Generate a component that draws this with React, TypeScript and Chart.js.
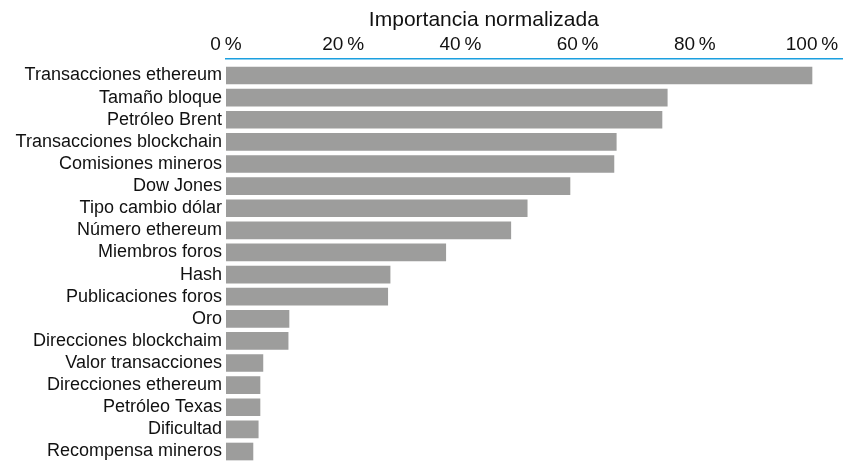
import React, { useEffect, useRef } from "react";
import { Chart, registerables } from "chart.js";

Chart.register(...registerables);

const categories: string[] = [
  "Transacciones ethereum",
  "Tamaño bloque",
  "Petróleo Brent",
  "Transacciones blockchain",
  "Comisiones mineros",
  "Dow Jones",
  "Tipo cambio dólar",
  "Número ethereum",
  "Miembros foros",
  "Hash",
  "Publicaciones foros",
  "Oro",
  "Direcciones blockchaim",
  "Valor transacciones",
  "Direcciones ethereum",
  "Petróleo Texas",
  "Dificultad",
  "Recompensa mineros",
];

const importance: number[] = [
  100, 75.3, 74.4, 66.6, 66.2, 58.7, 51.4, 48.6, 37.5, 28.0, 27.6, 10.75, 10.6,
  6.3, 5.8, 5.8, 5.5, 4.6,
];

const xTickValues: number[] = [0, 20, 40, 60, 80, 100];
const axisTitle = "Importancia normalizada";

const FONT = '"Liberation Sans", Arial, Helvetica, sans-serif';

const titlePlugin = {
  id: "axisTitleText",
  afterDraw(chart: any) {
    const ctx = chart.ctx;
    const xs = chart.scales.x;
    ctx.save();
    ctx.font = `21px ${FONT}`;
    ctx.fillStyle = "#111";
    ctx.textAlign = "center";
    ctx.textBaseline = "alphabetic";
    ctx.fillText(axisTitle, xs.getPixelForValue(44), 26);
    ctx.restore();
  },
};

export default function App() {
  const ref = useRef<HTMLCanvasElement | null>(null);

  useEffect(() => {
    document.body.style.margin = "0";
    const canvas = ref.current;
    if (!canvas) return;
    Chart.defaults.font.family = FONT;
    const chart = new Chart(canvas, {
      type: "bar",
      data: {
        datasets: [
          {
            data: importance.map((v, i) => ({ x: v, y: i })),
            backgroundColor: "#9d9d9c",
            borderWidth: 0,
            barThickness: 17,
          },
        ],
      },
      options: {
        indexAxis: "y",
        animation: false,
        responsive: true,
        maintainAspectRatio: false,
        layout: { padding: { top: 33, left: 0, right: 0, bottom: 0 } },
        plugins: {
          legend: { display: false },
          tooltip: { enabled: false },
          title: { display: false },
        },
        scales: {
          x: {
            type: "linear",
            position: "top",
            min: 0,
            max: 105.29,
            offset: false,
            grid: { display: false, drawTicks: false, color: "#1a9fe0" },
            border: { display: true, color: "#1b9fdf", width: 1.5 },
            afterBuildTicks: (s: any) => {
              s.ticks = xTickValues.map((v) => ({ value: v }));
            },
            afterFit: (s: any) => {
              s.height = 26;
            },
            ticks: {
              padding: 3,
              color: "#111",
              font: { size: 19 },
              maxRotation: 0,
              autoSkip: false,
              callback: (v: any) => `${v}\u2009%`,
            },
          },
          y: {
            type: "linear",
            reverse: true,
            offset: false,
            min: -0.746,
            max: 17.474,
            grid: { display: false, drawTicks: false },
            border: { display: false },
            afterBuildTicks: (s: any) => {
              s.ticks = categories.map((_, i) => ({ value: i }));
            },
            afterFit: (s: any) => {
              s.width = 226;
              s.paddingTop = 0;
              s.paddingBottom = 0;
            },
            ticks: {
              padding: 4,
              color: "#111",
              font: { size: 18 },
              autoSkip: false,
              callback: (v: any) => categories[v as number] ?? "",
            },
          },
        },
      },
      plugins: [titlePlugin],
    } as any);
    return () => chart.destroy();
  }, []);

  return (
    <div style={{ position: "fixed", left: 0, top: 0, width: 843, height: 462 }}>
      <canvas ref={ref} />
    </div>
  );
}
